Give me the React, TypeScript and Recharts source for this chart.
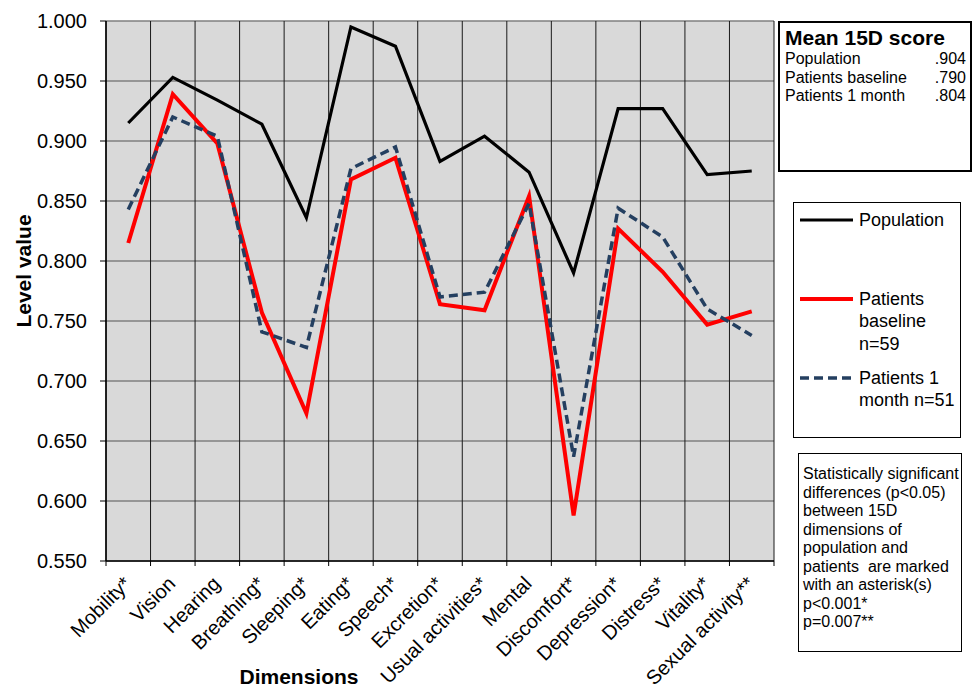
import React from "react"
import { LineChart, Line, XAxis, YAxis, CartesianGrid } from "recharts"

// 15D dimensions
const dimensions = [
  "Mobility*", "Vision", "Hearing", "Breathing*", "Sleeping*", "Eating*", "Speech*", "Excretion*",
  "Usual activities*", "Mental", "Discomfort*", "Depression*", "Distress*", "Vitality*", "Sexual activity**",
]

const population = [0.915, 0.953, 0.934, 0.914, 0.836, 0.995, 0.979, 0.883, 0.904, 0.874, 0.79, 0.927, 0.927, 0.872, 0.875]
const patientsBaseline = [0.815, 0.939, 0.898, 0.757, 0.673, 0.868, 0.886, 0.764, 0.759, 0.854, 0.588, 0.827, 0.791, 0.747, 0.758]
const patientsMonth = [0.843, 0.92, 0.904, 0.741, 0.728, 0.877, 0.895, 0.77, 0.774, 0.848, 0.637, 0.844, 0.82, 0.76, 0.738]

const yTicks = [0.55, 0.6, 0.65, 0.7, 0.75, 0.8, 0.85, 0.9, 0.95, 1.0]

const meanScores = [
  ["Population", ".904"],
  ["Patients baseline", ".790"],
  ["Patients 1 month", ".804"],
]

const noteLines = [
  "Statistically significant",
  "differences (p<0.05)",
  "between 15D",
  "dimensions of",
  "population and",
  "patients  are marked",
  "with an asterisk(s)",
  "p<0.001*",
  "p=0.007**",
]

const FONT = "'Liberation Sans', Arial, Helvetica, sans-serif"

// x = middle of each category band, bands run 0..15
const data = dimensions.map((name, i) => ({
  x: i + 0.5,
  name,
  population: population[i],
  baseline: patientsBaseline[i],
  month: patientsMonth[i],
}))

// tick marks on band edges, labels on band centres
const xTicks = Array.from({ length: dimensions.length * 2 + 1 }, (_, i) => i / 2)
const bandEdges = Array.from({ length: dimensions.length + 1 }, (_, i) => i)

const DimTick = ({ x, y, payload }: any) => {
  const v = payload.value
  if (Number.isInteger(v)) {
    return <line x1={x} x2={x} y1={y - 7} y2={y - 2} stroke="#000" strokeWidth={1} />
  }
  const label = dimensions[Math.floor(v)]
  return (
    <g transform={`translate(${x - 1},${y + 12})`}>
      <text transform="rotate(-45)" textAnchor="end" dy="0.35em" fontSize={20} fontFamily={FONT} fill="#000">
        {label}
      </text>
    </g>
  )
}

export default function App() {
  return (
    <div style={{ position: "absolute", left: 0, top: 0, width: 973, height: 692, background: "#fff", fontFamily: FONT, color: "#000" }}>
      <LineChart width={973} height={692} data={data} margin={{ top: 21, right: 199, left: 0, bottom: 0 }}>
        <CartesianGrid vertical={false} stroke="#7f7f7f" strokeWidth={1.5} fill="#d9d9d9" />
        <CartesianGrid
          horizontal={false}
          stroke="#1a1a1a"
          strokeWidth={1}
          verticalCoordinatesGenerator={({ offset }: any) =>
            bandEdges.map((b) => offset.left + (b * offset.width) / dimensions.length)
          }
        />
        <XAxis
          type="number"
          dataKey="x"
          domain={[0, dimensions.length]}
          ticks={xTicks}
          interval={0}
          tickLine={false}
          tickSize={5}
          tickMargin={2}
          tick={<DimTick />}
          axisLine={{ stroke: "#000", strokeWidth: 1.5 }}
          height={131}
        />
        <YAxis
          type="number"
          domain={[0.55, 1.0]}
          ticks={yTicks}
          interval={0}
          width={106}
          tickSize={6}
          tickMargin={13}
          tickFormatter={(v: number) => v.toFixed(3)}
          tick={{ fontSize: 20, fill: "#000", fontFamily: FONT }}
          tickLine={{ stroke: "#000" }}
          axisLine={{ stroke: "#000", strokeWidth: 1.5 }}
        />
        <Line type="linear" dataKey="population" stroke="#000" strokeWidth={3.2} dot={false} activeDot={false} isAnimationActive={false} />
        <Line type="linear" dataKey="baseline" stroke="#ff0000" strokeWidth={4} dot={false} activeDot={false} isAnimationActive={false} />
        <Line type="linear" dataKey="month" stroke="#243f60" strokeWidth={3.5} strokeDasharray="9 5" dot={false} activeDot={false} isAnimationActive={false} />
      </LineChart>

      {/* axis titles */}
      <div style={{ position: "absolute", left: 24, top: 271, transform: "translate(-50%, -50%) rotate(-90deg)", fontSize: 21, fontWeight: "bold", whiteSpace: "nowrap" }}>
        Level value
      </div>
      <div style={{ position: "absolute", left: 299, top: 677, transform: "translate(-50%, -50%)", fontSize: 21, fontWeight: "bold", whiteSpace: "nowrap" }}>
        Dimensions
      </div>

      {/* mean score box */}
      <div style={{ position: "absolute", left: 778, top: 21, width: 194, height: 151, border: "2px solid #000", boxSizing: "border-box", padding: "3px 4px 0 5px" }}>
        <div style={{ fontSize: 21, fontWeight: "bold", lineHeight: "24px" }}>Mean 15D score</div>
        {meanScores.map(([label, value]) => (
          <div key={label} style={{ display: "flex", justifyContent: "space-between", fontSize: 16, lineHeight: "18.5px" }}>
            <span>{label}</span>
            <span>{value}</span>
          </div>
        ))}
      </div>

      {/* legend */}
      <div style={{ position: "absolute", left: 793, top: 202, width: 168, height: 236, border: "1px solid #000", boxSizing: "border-box" }} />
      <svg style={{ position: "absolute", left: 0, top: 0 }} width={973} height={692} pointerEvents="none">
        <line x1={800} x2={853} y1={220} y2={220} stroke="#000" strokeWidth={3} />
        <line x1={800} x2={853} y1={299} y2={299} stroke="#ff0000" strokeWidth={4} />
        <line x1={800} x2={853} y1={378} y2={378} stroke="#243f60" strokeWidth={3.5} strokeDasharray="9 5" />
      </svg>
      <div style={{ position: "absolute", left: 859, top: 209, fontSize: 18, lineHeight: "22.3px" }}>Population</div>
      <div style={{ position: "absolute", left: 859, top: 288, fontSize: 18, lineHeight: "22.3px" }}>
        <div>Patients</div>
        <div>baseline</div>
        <div>n=59</div>
      </div>
      <div style={{ position: "absolute", left: 859, top: 366.5, fontSize: 18, lineHeight: "22.3px" }}>
        <div>Patients 1</div>
        <div>month n=51</div>
      </div>

      {/* significance note */}
      <div style={{ position: "absolute", left: 798, top: 453, width: 164, height: 199, border: "1px solid #000", boxSizing: "border-box", padding: "11px 0 0 4px" }}>
        {noteLines.map((t, i) => (
          <div key={i} style={{ fontSize: 16, lineHeight: "18.5px", whiteSpace: "pre" }}>{t}</div>
        ))}
      </div>
    </div>
  )
}
